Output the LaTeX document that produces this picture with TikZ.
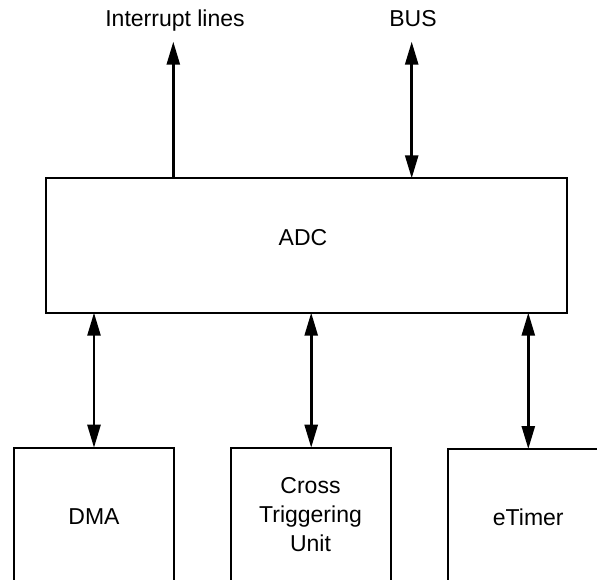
\documentclass[tikz,border=0pt]{standalone}
\usepackage{fontspec}
\setmainfont{Liberation Sans}
\usetikzlibrary{arrows.meta}
\tikzset{
  unitbox/.style={draw, line width=2.3pt, minimum width=160pt, inner sep=0pt, outer sep=0pt},
  lbl/.style={inner sep=0pt, anchor=base, font=\fontsize{23}{29.2}\selectfont},
  link/.style={line width=2.6pt, {Triangle[length=23pt,width=13pt]}-{Triangle[length=23pt,width=13pt]}},
  outlink/.style={line width=2.6pt, -{Triangle[length=23pt,width=13pt]}}
}
\begin{document}
\begin{tikzpicture}[x=1pt,y=-1pt]
  \clip (0,0) rectangle (597,580);
  \fill[white] (0,0) rectangle (597,580);

  % converter block
  \node[draw, line width=2.3pt, minimum width=521pt, minimum height=134.4pt,
        inner sep=0pt, outer sep=0pt] (adc) at (306.5,245.5) {};
  \node[lbl] (adclbl) at (303,245.7) {ADC};

  % peripheral blocks, open at the bottom edge
  \node[unitbox, minimum height=160pt, anchor=north] (dma) at (94,447.7) {};
  \node[unitbox, minimum height=160pt, anchor=north] (ctu) at (311.2,447.7) {};
  \node[unitbox, minimum height=160pt, anchor=north] (etimer) at (528.3,449) {};

  \node[lbl] (dmalbl) at (94,524) {DMA};
  \node[lbl] (ctulbl1) at (310.5,493.3) {Cross};
  \node[lbl] (ctulbl2) at (310.5,522.5) {Triggering};
  \node[lbl] (ctulbl3) at (310.5,551.7) {Unit};
  \node[lbl] (etimerlbl) at (528.3,525) {eTimer};

  % top labels
  \node[lbl] (irqlbl) at (175,26.5) {Interrupt lines};
  \node[lbl] (buslbl) at (413,26.5) {BUS};
  \coordinate (irqend) at (173.3,41.7);
  \coordinate (busend) at (411.7,41.7);

  % connections
  \draw[outlink] (irqend |- adc.north) -- (irqend);
  \draw[link] (busend) -- (busend |- adc.north);
  \draw[link] (dma.north |- adc.south) -- (dma.north);
  \draw[link] (ctu.north |- adc.south) -- (ctu.north);
  \draw[link] (etimer.north |- adc.south) -- (etimer.north);
\end{tikzpicture}
\end{document}
